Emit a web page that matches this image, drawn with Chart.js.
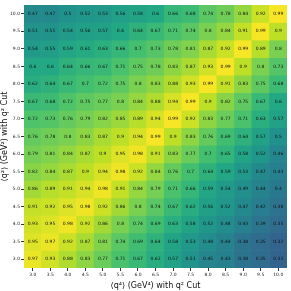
<!DOCTYPE html>
<html>
<head>
<meta charset="utf-8">
<script src="https://cdn.jsdelivr.net/npm/chart.js@4"></script>
<style>
  html, body { margin: 0; padding: 0; background: #fff; }
</style>
</head>
<body>
<canvas id="heat" width="291" height="291"></canvas>
<script>
// x axis: <q^4> values, y axis: <q^2> values (top row first)
const q4Labels = ['3.0', '3.5', '4.0', '4.5', '5.0', '5.5', '6.0', '6.5', '7.0', '7.5', '8.0', '8.5', '9.0', '9.5', '10.0'];
const q2Values = [10.0, 9.5, 9.0, 8.5, 8.0, 7.5, 7.0, 6.5, 6.0, 5.5, 5.0, 4.5, 4.0, 3.5, 3.0];

// one row per q2 value
const cellValues = [
  [0.47, 0.47, 0.5, 0.52, 0.53, 0.56, 0.58, 0.6, 0.66, 0.68, 0.74, 0.78, 0.84, 0.92, 0.99],
  [0.51, 0.51, 0.54, 0.56, 0.57, 0.6, 0.64, 0.67, 0.71, 0.74, 0.8, 0.84, 0.91, 0.99, 0.9],
  [0.54, 0.55, 0.59, 0.61, 0.63, 0.66, 0.7, 0.73, 0.78, 0.81, 0.87, 0.92, 0.99, 0.89, 0.8],
  [0.6, 0.6, 0.64, 0.66, 0.67, 0.71, 0.75, 0.78, 0.83, 0.87, 0.93, 0.99, 0.9, 0.8, 0.73],
  [0.62, 0.64, 0.67, 0.7, 0.72, 0.75, 0.8, 0.83, 0.88, 0.93, 0.99, 0.91, 0.83, 0.75, 0.68],
  [0.67, 0.68, 0.72, 0.75, 0.77, 0.8, 0.84, 0.88, 0.94, 0.99, 0.9, 0.82, 0.75, 0.67, 0.6],
  [0.72, 0.73, 0.76, 0.79, 0.82, 0.85, 0.89, 0.94, 0.99, 0.92, 0.83, 0.77, 0.71, 0.63, 0.57],
  [0.76, 0.78, 0.8, 0.83, 0.87, 0.9, 0.94, 0.99, 0.9, 0.83, 0.76, 0.69, 0.64, 0.57, 0.5],
  [0.79, 0.81, 0.84, 0.87, 0.9, 0.95, 0.98, 0.91, 0.83, 0.77, 0.7, 0.65, 0.58, 0.52, 0.46],
  [0.82, 0.84, 0.87, 0.9, 0.94, 0.98, 0.92, 0.84, 0.76, 0.7, 0.64, 0.59, 0.53, 0.47, 0.43],
  [0.86, 0.89, 0.91, 0.94, 0.98, 0.91, 0.84, 0.79, 0.71, 0.66, 0.59, 0.54, 0.49, 0.44, 0.4],
  [0.91, 0.92, 0.95, 0.98, 0.92, 0.86, 0.8, 0.74, 0.67, 0.62, 0.56, 0.52, 0.47, 0.42, 0.38],
  [0.93, 0.95, 0.98, 0.92, 0.86, 0.8, 0.74, 0.69, 0.63, 0.58, 0.52, 0.48, 0.43, 0.39, 0.35],
  [0.95, 0.97, 0.92, 0.87, 0.81, 0.74, 0.69, 0.64, 0.58, 0.53, 0.48, 0.44, 0.38, 0.35, 0.32],
  [0.97, 0.93, 0.88, 0.83, 0.77, 0.71, 0.67, 0.62, 0.57, 0.51, 0.45, 0.43, 0.38, 0.35, 0.32]
];

// viridis, sampled every 0.1
const viridis = ['#440154', '#482475', '#414487', '#355f8d', '#2a788e', '#21918c', '#22a884', '#44bf70', '#7ad151', '#bddf26', '#fde725'];

function hexToRgb(h) {
  return [parseInt(h.slice(1, 3), 16), parseInt(h.slice(3, 5), 16), parseInt(h.slice(5, 7), 16)];
}

function colorFor(v) {
  const t = Math.max(0, Math.min(1, v)) * (viridis.length - 1);
  const i = Math.min(Math.floor(t), viridis.length - 2);
  const f = t - i;
  const a = hexToRgb(viridis[i]), b = hexToRgb(viridis[i + 1]);
  const c = a.map((x, k) => Math.round(x + (b[k] - x) * f));
  return `rgb(${c[0]},${c[1]},${c[2]})`;
}

const half = 0.25; // half of the 0.5 step between q2 rows

const datasets = q2Values.map((q2, r) => ({
  label: q2.toFixed(1),
  data: cellValues[r].map(() => [q2 - half, q2 + half]),
  cellText: cellValues[r],
  backgroundColor: cellValues[r].map(colorFor),
  borderWidth: 0,
  borderSkipped: false,
  barPercentage: 1,
  categoryPercentage: 1,
  grouped: false
}));

// writes the value in each cell
const cellLabels = {
  id: 'cellLabels',
  afterDatasetsDraw(chart) {
    const ctx = chart.ctx;
    ctx.save();
    ctx.font = '4.5px "DejaVu Sans"';
    ctx.fillStyle = '#111';
    ctx.textAlign = 'center';
    ctx.textBaseline = 'middle';
    chart.data.datasets.forEach((ds, d) => {
      chart.getDatasetMeta(d).data.forEach((bar, i) => {
        const p = bar.getProps(['x', 'y', 'base'], true);
        ctx.fillText(String(ds.cellText[i]), p.x, (p.y + p.base) / 2);
      });
    });
    ctx.restore();
  }
};

const tickFont = { family: 'DejaVu Sans', size: 4.5 };
const titleFont = { family: 'DejaVu Sans', size: 8 };

new Chart(document.getElementById('heat'), {
  type: 'bar',
  data: { labels: q4Labels, datasets: datasets },
  options: {
    responsive: false,
    animation: false,
    layout: { padding: { top: 5, right: 4, left: 0, bottom: 0 } },
    plugins: {
      legend: { display: false },
      tooltip: { enabled: false }
    },
    scales: {
      x: {
        type: 'category',
        offset: true,
        grid: { display: true, drawOnChartArea: false, drawTicks: true, tickLength: 3, offset: false, color: '#333' },
        border: { display: false },
        ticks: { font: tickFont, color: '#222', padding: 1, maxRotation: 0, autoSkip: false },
        title: { display: true, text: '⟨q⁴⟩ (GeV⁴) with q² Cut', font: titleFont, color: '#111', padding: 0 },
        afterFit: s => { s.height = 23; }
      },
      y: {
        type: 'linear',
        min: 2.75,
        max: 10.25,
        grid: { display: true, drawOnChartArea: false, drawTicks: true, tickLength: 3, color: '#333' },
        border: { display: false },
        afterBuildTicks: s => { s.ticks = q2Values.map(v => ({ value: v })); },
        ticks: { font: tickFont, color: '#222', padding: 1, callback: v => Number(v).toFixed(1) },
        title: { display: true, text: '⟨q²⟩ (GeV²) with q² Cut', font: titleFont, color: '#111', padding: 0 },
        afterFit: s => { s.width = 24; }
      }
    }
  },
  plugins: [cellLabels]
});
</script>
</body>
</html>
